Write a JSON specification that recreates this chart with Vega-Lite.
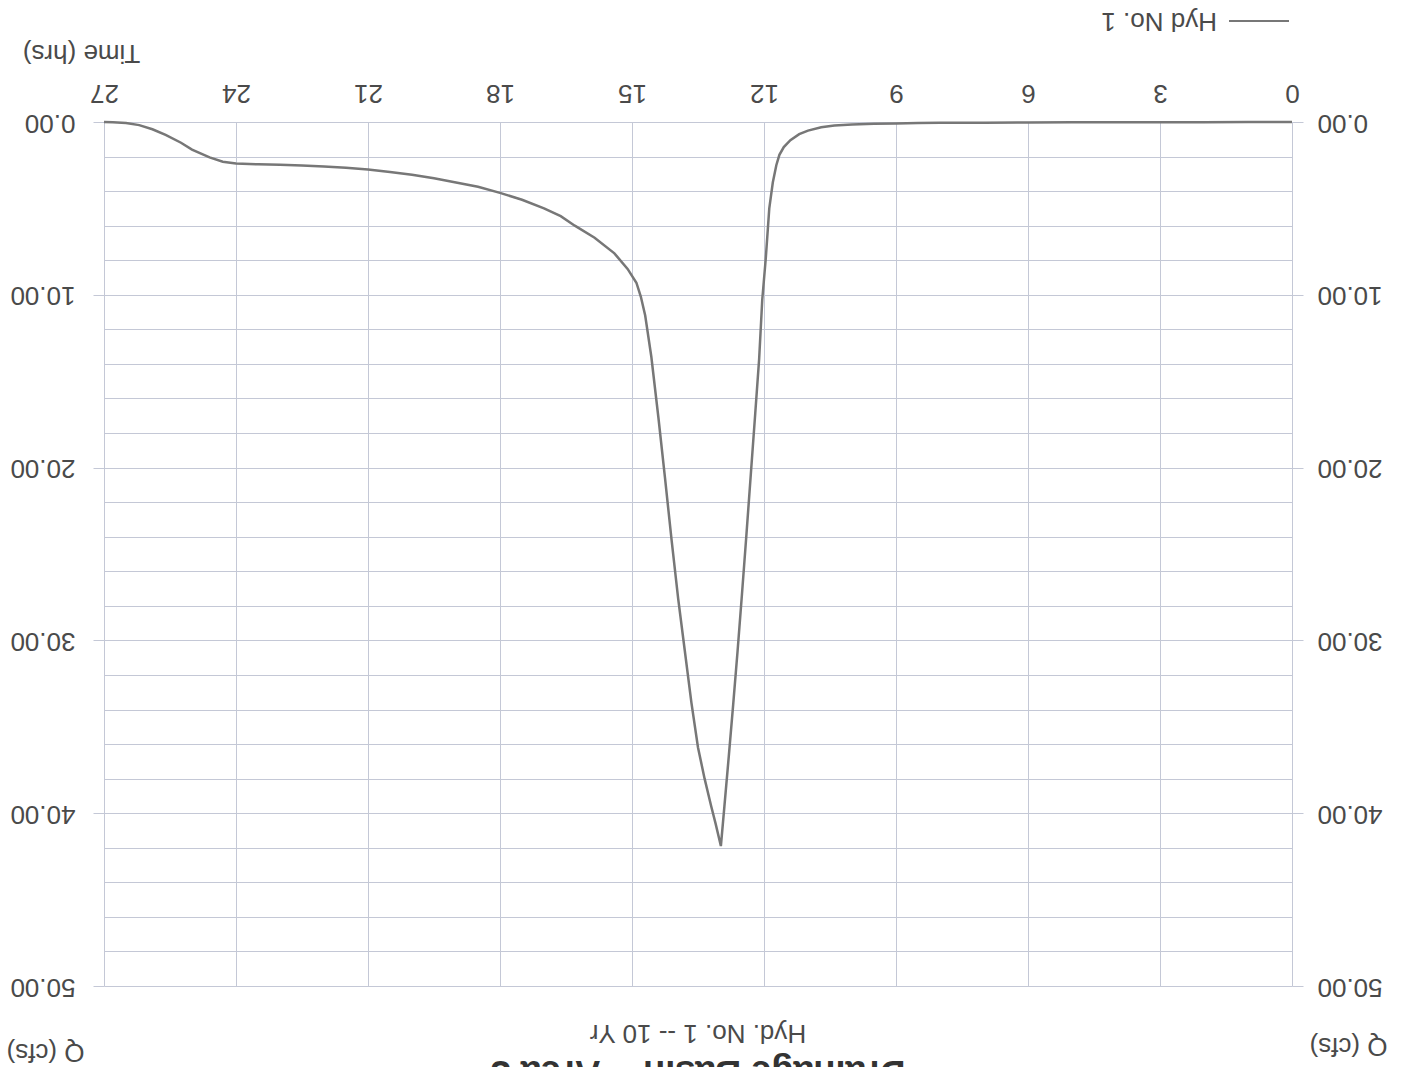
{
  "$schema": "https://vega.github.io/schema/vega-lite/v6.json",
  "width": 1188,
  "height": 864,
  "autosize": "none",
  "padding": {"left": 104, "top": 122, "right": 119, "bottom": 81},
  "background": "white",
  "config": {
    "font": "Liberation Sans",
    "view": {"stroke": null}
  },
  "title": {
    "text": "Hyd. No. 1 -- 10 Yr",
    "subtitle": "Drainage Basin -- Area 3",
    "orient": "bottom",
    "anchor": "middle",
    "frame": "group",
    "angle": 180,
    "baseline": "bottom",
    "fontSize": 26,
    "fontWeight": "normal",
    "color": "#4a4a4a",
    "subtitleFontSize": 36,
    "subtitleFontWeight": "bold",
    "subtitleColor": "#333333",
    "subtitlePadding": 7,
    "offset": -44
  },
  "data": {
    "values": [
      {"time": 0, "q": 0.0, "series": "Hyd No. 1"},
      {"time": 1, "q": 0.0, "series": "Hyd No. 1"},
      {"time": 2, "q": 0.01, "series": "Hyd No. 1"},
      {"time": 3, "q": 0.01, "series": "Hyd No. 1"},
      {"time": 4, "q": 0.02, "series": "Hyd No. 1"},
      {"time": 5, "q": 0.02, "series": "Hyd No. 1"},
      {"time": 6, "q": 0.03, "series": "Hyd No. 1"},
      {"time": 7, "q": 0.04, "series": "Hyd No. 1"},
      {"time": 8, "q": 0.05, "series": "Hyd No. 1"},
      {"time": 8.5, "q": 0.06, "series": "Hyd No. 1"},
      {"time": 9, "q": 0.08, "series": "Hyd No. 1"},
      {"time": 9.5, "q": 0.1, "series": "Hyd No. 1"},
      {"time": 10, "q": 0.14, "series": "Hyd No. 1"},
      {"time": 10.4, "q": 0.2, "series": "Hyd No. 1"},
      {"time": 10.7, "q": 0.3, "series": "Hyd No. 1"},
      {"time": 11, "q": 0.5, "series": "Hyd No. 1"},
      {"time": 11.2, "q": 0.7, "series": "Hyd No. 1"},
      {"time": 11.4, "q": 1.05, "series": "Hyd No. 1"},
      {"time": 11.55, "q": 1.45, "series": "Hyd No. 1"},
      {"time": 11.65, "q": 1.9, "series": "Hyd No. 1"},
      {"time": 11.72, "q": 2.5, "series": "Hyd No. 1"},
      {"time": 11.8, "q": 3.5, "series": "Hyd No. 1"},
      {"time": 11.88, "q": 5.0, "series": "Hyd No. 1"},
      {"time": 11.96, "q": 7.9, "series": "Hyd No. 1"},
      {"time": 12.04, "q": 10.3, "series": "Hyd No. 1"},
      {"time": 12.11, "q": 13.7, "series": "Hyd No. 1"},
      {"time": 12.2, "q": 16.9, "series": "Hyd No. 1"},
      {"time": 12.3, "q": 20.4, "series": "Hyd No. 1"},
      {"time": 12.4, "q": 23.9, "series": "Hyd No. 1"},
      {"time": 12.5, "q": 27.3, "series": "Hyd No. 1"},
      {"time": 12.6, "q": 30.6, "series": "Hyd No. 1"},
      {"time": 12.7, "q": 33.7, "series": "Hyd No. 1"},
      {"time": 12.8, "q": 36.7, "series": "Hyd No. 1"},
      {"time": 12.9, "q": 39.6, "series": "Hyd No. 1"},
      {"time": 12.98, "q": 41.9, "series": "Hyd No. 1"},
      {"time": 13.1, "q": 40.6, "series": "Hyd No. 1"},
      {"time": 13.2, "q": 39.6, "series": "Hyd No. 1"},
      {"time": 13.35, "q": 38.0, "series": "Hyd No. 1"},
      {"time": 13.5, "q": 36.2, "series": "Hyd No. 1"},
      {"time": 13.65, "q": 33.6, "series": "Hyd No. 1"},
      {"time": 13.8, "q": 30.6, "series": "Hyd No. 1"},
      {"time": 13.95, "q": 27.6, "series": "Hyd No. 1"},
      {"time": 14.1, "q": 24.2, "series": "Hyd No. 1"},
      {"time": 14.25, "q": 20.6, "series": "Hyd No. 1"},
      {"time": 14.4, "q": 17.1, "series": "Hyd No. 1"},
      {"time": 14.56, "q": 13.6, "series": "Hyd No. 1"},
      {"time": 14.7, "q": 11.2, "series": "Hyd No. 1"},
      {"time": 14.8, "q": 10.1, "series": "Hyd No. 1"},
      {"time": 14.9, "q": 9.3, "series": "Hyd No. 1"},
      {"time": 15.1, "q": 8.5, "series": "Hyd No. 1"},
      {"time": 15.4, "q": 7.6, "series": "Hyd No. 1"},
      {"time": 15.85, "q": 6.7, "series": "Hyd No. 1"},
      {"time": 16.3, "q": 6.0, "series": "Hyd No. 1"},
      {"time": 16.62, "q": 5.45, "series": "Hyd No. 1"},
      {"time": 17, "q": 5.0, "series": "Hyd No. 1"},
      {"time": 17.5, "q": 4.5, "series": "Hyd No. 1"},
      {"time": 18, "q": 4.1, "series": "Hyd No. 1"},
      {"time": 18.5, "q": 3.75, "series": "Hyd No. 1"},
      {"time": 19, "q": 3.5, "series": "Hyd No. 1"},
      {"time": 19.5, "q": 3.25, "series": "Hyd No. 1"},
      {"time": 20, "q": 3.05, "series": "Hyd No. 1"},
      {"time": 20.5, "q": 2.9, "series": "Hyd No. 1"},
      {"time": 21, "q": 2.75, "series": "Hyd No. 1"},
      {"time": 21.5, "q": 2.65, "series": "Hyd No. 1"},
      {"time": 22, "q": 2.58, "series": "Hyd No. 1"},
      {"time": 22.5, "q": 2.52, "series": "Hyd No. 1"},
      {"time": 23, "q": 2.48, "series": "Hyd No. 1"},
      {"time": 23.5, "q": 2.45, "series": "Hyd No. 1"},
      {"time": 24, "q": 2.4, "series": "Hyd No. 1"},
      {"time": 24.3, "q": 2.3, "series": "Hyd No. 1"},
      {"time": 24.6, "q": 2.05, "series": "Hyd No. 1"},
      {"time": 25, "q": 1.6, "series": "Hyd No. 1"},
      {"time": 25.25, "q": 1.2, "series": "Hyd No. 1"},
      {"time": 25.6, "q": 0.75, "series": "Hyd No. 1"},
      {"time": 25.9, "q": 0.42, "series": "Hyd No. 1"},
      {"time": 26.2, "q": 0.18, "series": "Hyd No. 1"},
      {"time": 26.5, "q": 0.06, "series": "Hyd No. 1"},
      {"time": 26.8, "q": 0.02, "series": "Hyd No. 1"},
      {"time": 27, "q": 0.0, "series": "Hyd No. 1"}
    ]
  },
  "encoding": {
    "x": {
      "field": "time",
      "type": "quantitative",
      "scale": {"domain": [0, 27], "reverse": true, "nice": false, "zero": false},
      "axis": {
        "orient": "top",
        "values": [0, 3, 6, 9, 12, 15, 18, 21, 24, 27],
        "title": "Time (hrs)",
        "titleAngle": 180,
        "titleX": -23,
        "titleY": -70,
        "titleAlign": "center",
        "titleBaseline": "middle",
        "titleFontSize": 26,
        "titleFontWeight": "normal",
        "titleColor": "#4a4a4a",
        "labelAngle": 180,
        "labelAlign": "center",
        "labelBaseline": "top",
        "labelFontSize": 26,
        "labelColor": "#4a4a4a",
        "labelPadding": 17,
        "labelFlush": false,
        "labelOverlap": false,
        "ticks": false,
        "domain": false,
        "grid": true,
        "gridColor": "#c4c8d6",
        "gridWidth": 1,
        "gridOpacity": 1
      }
    }
  },
  "layer": [
    {
      "mark": {"type": "line", "strokeWidth": 2.5},
      "encoding": {
        "y": {
          "field": "q",
          "type": "quantitative",
          "scale": {"domain": [0, 50], "reverse": true, "nice": false},
          "axis": {
            "orient": "left",
            "values": [0, 2, 4, 6, 8, 10, 12, 14, 16, 18, 20, 22, 24, 26, 28, 30, 32, 34, 36, 38, 40, 42, 44, 46, 48, 50],
            "labelExpr": "datum.value % 10 === 0 ? format(datum.value, '.2f') : ''",
            "grid": true,
            "gridColor": "#c4c8d6",
            "gridWidth": 1,
            "gridOpacity": 1,
            "tickSize": 11,
            "tickColor": "#c4c8d6",
            "tickOpacity": {"condition": {"test": "datum.value % 10 === 0", "value": 1}, "value": 0},
            "labelAngle": 180,
            "labelAlign": "left",
            "labelBaseline": "middle",
            "labelPadding": 18,
            "labelFontSize": 26,
            "labelColor": "#4a4a4a",
            "labelFlush": false,
            "labelOverlap": false,
            "domain": false,
            "title": "Q (cfs)",
            "titleAngle": 180,
            "titleX": -59,
            "titleY": 929,
            "titleAlign": "center",
            "titleBaseline": "middle",
            "titleFontSize": 26,
            "titleFontWeight": "normal",
            "titleColor": "#4a4a4a"
          }
        },
        "color": {
          "field": "series",
          "type": "nominal",
          "scale": {"range": ["#777777"]},
          "legend": {
            "orient": "none",
            "legendX": 1124,
            "legendY": -132,
            "title": null,
            "padding": 0,
            "symbolType": "stroke",
            "symbolSize": 3600,
            "symbolStrokeWidth": 2,
            "labelFontSize": 26,
            "labelColor": "#4a4a4a",
            "labelOffset": 0,
            "encode": {
              "labels": {
                "update": {
                  "angle": {"value": 180},
                  "align": {"value": "left"},
                  "dx": {"value": 73}
                }
              }
            }
          }
        }
      }
    },
    {
      "mark": {"type": "line", "opacity": 0},
      "encoding": {
        "y": {
          "field": "q",
          "type": "quantitative",
          "scale": {"domain": [0, 50], "reverse": true, "nice": false},
          "axis": {
            "orient": "right",
            "values": [0, 10, 20, 30, 40, 50],
            "format": ".2f",
            "grid": false,
            "tickSize": 11,
            "tickColor": "#c4c8d6",
            "labelAngle": 180,
            "labelAlign": "right",
            "labelBaseline": "middle",
            "labelPadding": 14,
            "labelFontSize": 26,
            "labelColor": "#4a4a4a",
            "labelFlush": false,
            "labelOverlap": false,
            "domain": false,
            "title": "Q (cfs)",
            "titleAngle": 180,
            "titleX": 56,
            "titleY": 923,
            "titleAlign": "center",
            "titleBaseline": "middle",
            "titleFontSize": 26,
            "titleFontWeight": "normal",
            "titleColor": "#4a4a4a"
          }
        }
      }
    }
  ],
  "resolve": {"axis": {"y": "independent"}}
}
